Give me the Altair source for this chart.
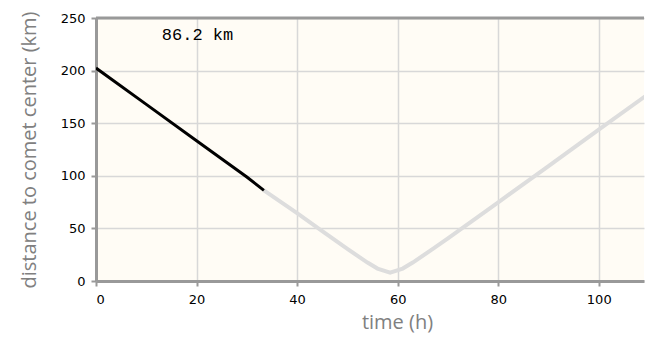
import altair as alt
import pandas as pd

# data
past_t = [0, 10, 20, 30, 33.4]
past_d = [202.4, 167.9, 133.4, 98.9, 86.2]
future_t = [33.4, 40, 45, 50, 54, 56, 58.5, 61, 63, 67, 70, 80, 90, 100, 110, 120]
future_d = [86.2, 64.5, 47.4, 30.5, 17.5, 11.8, 8.0, 11.8, 17.5, 30.5, 40.6, 74.8, 109.3, 143.8, 178.2, 212.8]
label_text = ["86.2 km"]
label_t = [20.2]
label_d = [229]
x_ticks = [0, 20, 40, 60, 80, 100, 120]
y_ticks = [0, 50, 100, 150, 200, 250]

past = pd.DataFrame({"t": past_t, "d": past_d})
future = pd.DataFrame({"t": future_t, "d": future_d})
lab = pd.DataFrame({"t": label_t, "d": label_d, "txt": label_text})

xs = alt.Scale(domain=[0, 109], nice=False)
ys = alt.Scale(domain=[0, 250], nice=False)

axis_common = dict(
    labelFont="DejaVu Sans", labelFontSize=13, labelColor="#000",
    titleFont="Open Sans", titleFontSize=20, titleColor="#808080", titleFontWeight="normal",
    tickColor="#999", tickWidth=2, tickSize=5,
    domainColor="#999", domainWidth=3,
    grid=True, gridColor="#d8d8d8", gridWidth=1.5,
)

x_enc = alt.X("t:Q", scale=xs, axis=alt.Axis(title="time (h)", values=x_ticks, labelPadding=7,
                                            titlePadding=6, titleX=301, **axis_common))
y_enc = alt.Y("d:Q", scale=ys, axis=alt.Axis(title="distance to comet center (km)", values=y_ticks,
                                            labelPadding=6, titlePadding=21, **axis_common))

future_line = alt.Chart(future).mark_line(color="#dddddd", strokeWidth=4, clip=True).encode(x=x_enc, y=y_enc)
past_line = alt.Chart(past).mark_line(color="#000000", strokeWidth=3, clip=True).encode(x="t:Q", y="d:Q")
text = alt.Chart(lab).mark_text(font="Liberation Mono", fontSize=17, color="#000",
                                align="center", baseline="alphabetic").encode(
    x="t:Q", y="d:Q", text="txt:N")
top_border = alt.Chart(lab).mark_rule(color="#999", strokeWidth=3).encode(
    x=alt.value(0), x2=alt.value("width"), y=alt.value(0))

chart = alt.layer(future_line, past_line, text, top_border).properties(
    width=548, height=263,
    padding={"left": 11, "top": 3, "right": 0, "bottom": 5},
).configure_view(fill="#fffcf5", stroke=None)

chart.save("out.html", embed_options={"renderer": "svg", "actions": False})
